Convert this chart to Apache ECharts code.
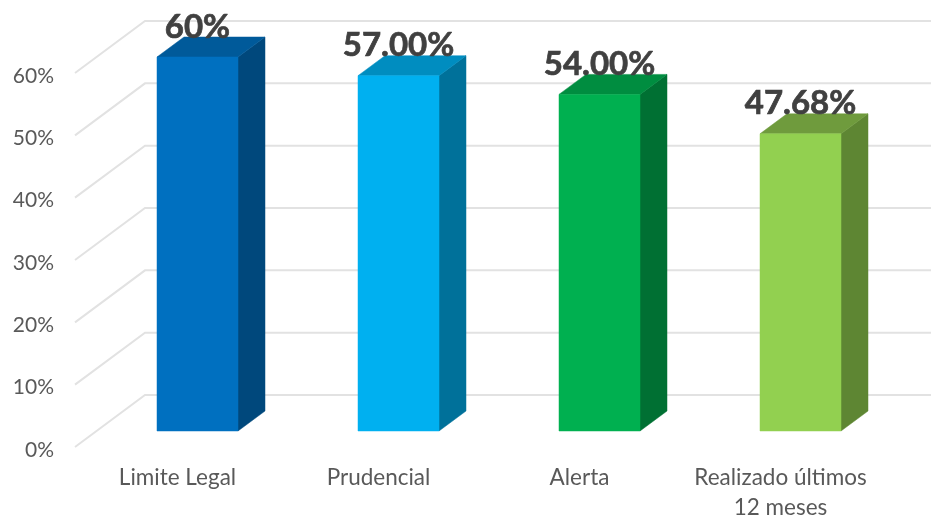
<!DOCTYPE html>
<html><head><meta charset="utf-8">
<style>html,body{margin:0;padding:0;background:#fff}#c{width:931px;height:515px}</style>
<script src="https://cdn.jsdelivr.net/npm/echarts@6/dist/echarts.min.js"></script>
</head><body><div id="c"></div>
<script>
const categories = ['Limite Legal', 'Prudencial', 'Alerta', 'Realizado últimos\n12 meses'];
const values = [60, 57, 54, 47.68];
const valueLabels = ['60%', '57.00%', '54.00%', '47.68%'];
const yTicks = [0, 10, 20, 30, 40, 50, 60];
const frontColors = ['#0070C0', '#00B0F0', '#00B050', '#92D050'];
const topColors = ['#005A9A', '#008DC0', '#008D40', '#6F9B3D'];
const sideColors = ['#00487C', '#00719A', '#007033', '#5E8633'];

const WALL_START = -2, WALL_DX = 70, WALL_DY = -52;
const FRONT_DX = 20, FRONT_DY = -16;
const DEPTH_DX = 27, DEPTH_DY = -20;
const BAR_W = 81;
const FONT = 'Lato, Carlito, sans-serif';

function renderWall(params, api) {
  const cs = params.coordSys;
  const p = api.coord([0, api.value(0)]);
  const y = p[1], x0 = cs.x + WALL_START;
  return {
    type: 'polyline',
    shape: { points: [[x0, y], [x0 + WALL_DX, y + WALL_DY], [x0 + cs.width + WALL_DX, y + WALL_DY]] },
    style: { fill: null, stroke: '#E2E2E2', lineWidth: 2 },
    silent: true
  };
}

function renderBar(params, api) {
  const i = api.value(0), v = api.value(1);
  const top = api.coord([i, v]), base = api.coord([i, 0]);
  const l = top[0] + FRONT_DX - BAR_W / 2, r = l + BAR_W;
  const t = top[1] + FRONT_DY, b = base[1] + FRONT_DY;
  const dx = DEPTH_DX, dy = DEPTH_DY;
  const poly = (pts, fill) => ({ type: 'polygon', shape: { points: pts }, style: { fill: fill, stroke: fill, lineWidth: 0.5 } });
  return {
    type: 'group',
    children: [
      poly([[r, t], [r + dx, t + dy], [r + dx, b + dy], [r, b]], sideColors[i]),
      poly([[l, t], [l + dx, t + dy], [r + dx, t + dy], [r, t]], topColors[i]),
      poly([[l, t], [r, t], [r, b], [l, b]], frontColors[i]),
      { type: 'text', z2: 10, style: {
          x: (l + r) / 2, y: t - 30, text: valueLabels[i], align: 'center', verticalAlign: 'middle',
          font: 'bold 33px ' + FONT, fill: '#404040', stroke: '#404040', lineWidth: 0.7 } }
    ]
  };
}

const chart = echarts.init(document.getElementById('c'), null, { renderer: 'canvas' });
chart.setOption({
  animation: false,
  backgroundColor: '#fff',
  grid: { left: 77, right: 50, top: 73, bottom: 68, containLabel: false, outerBoundsMode: 'none' },
  xAxis: {
    type: 'category', data: categories,
    axisLine: { show: false }, axisTick: { show: false }, splitLine: { show: false },
    axisLabel: { color: '#595959', fontFamily: FONT, fontSize: 22.5, lineHeight: 30, margin: 16, interval: 0, hideOverlap: false }
  },
  yAxis: {
    type: 'value', min: 0, max: 60, interval: 10,
    axisLine: { show: false }, axisTick: { show: false }, splitLine: { show: false },
    axisLabel: { color: '#595959', fontFamily: FONT, fontSize: 21, margin: 23, verticalAlign: 'top', lineHeight: 6, formatter: '{value}%' }
  },
  series: [
    { type: 'custom', coordinateSystem: 'cartesian2d', clip: false, z: 1, silent: true,
      encode: { y: 0 }, renderItem: renderWall, data: yTicks.map(t => [t]) },
    { type: 'custom', coordinateSystem: 'cartesian2d', clip: false, z: 2, silent: true,
      encode: { x: 0, y: 1 }, renderItem: renderBar, data: values.map((v, i) => [i, v]) }
  ]
});
</script></body></html>
